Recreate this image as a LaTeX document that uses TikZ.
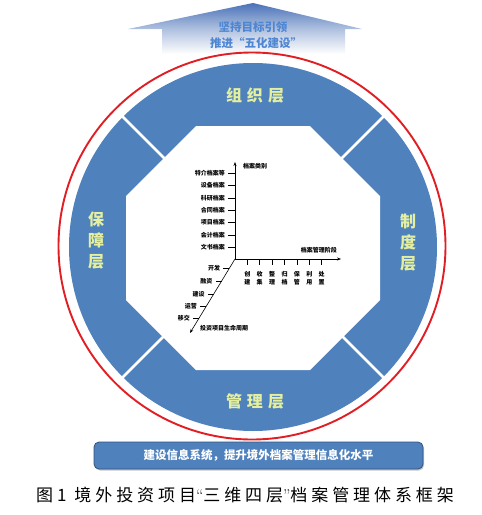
\documentclass[tikz,border=0pt]{standalone}
\usepackage{fontspec}
\newfontfamily\cjk{Noto Sans CJK SC}
\usetikzlibrary{arrows.meta,shadows,calc}
\definecolor{ringblue}{HTML}{4F81BD}
\definecolor{ringtext}{HTML}{E4F0A0}
\definecolor{ringred}{HTML}{E01E24}
\definecolor{roofblue}{HTML}{4A72B8}
\definecolor{rooftext}{HTML}{4F86D2}
\definecolor{boxedge}{HTML}{34527A}
\newcommand{\myopenq}{{\rmfamily\char"201C}}
\newcommand{\myclosq}{{\rmfamily\char"201D}}
\tikzset{
  ringlbl/.style={font=\cjk\bfseries\fontsize{16}{21}\selectfont, text=ringtext, inner sep=0pt, align=center},
  rooflbl/.style={font=\cjk\bfseries\fontsize{11.5}{13}\selectfont, text=rooftext, inner sep=0pt},
  axlbl/.style={font=\cjk\bfseries\fontsize{6}{8.3}\selectfont, inner sep=0pt, align=center},
  axisline/.style={line width=0.6pt, -{Stealth[length=4pt,width=3pt]}},
  tickline/.style={line width=0.5pt},
  botbox/.style={rounded corners=5pt, fill=ringblue, draw=boxedge, line width=0.8pt,
    minimum width=329pt, minimum height=27pt, inner sep=0pt,
    drop shadow={shadow xshift=1pt, shadow yshift=-1.5pt, fill=black!45},
    font=\cjk\bfseries\fontsize{11.5}{13}\selectfont, text=white},
  captionlbl/.style={font=\cjk\addfontfeature{LetterSpace=23}\fontsize{17}{20}\selectfont, inner sep=0pt}
}
\begin{document}
\begin{tikzpicture}[x=1pt,y=-1pt]
\useasboundingbox (0,0) rectangle (482,515);
\fill[white] (0,0) rectangle (482,515);

% roof arrow
\shade[top color=roofblue, bottom color=white, middle color=roofblue!45]
  (128,29) -- (253,3) -- (362,29) -- (345,29) -- (345,54) -- (162,54) -- (162,29) -- cycle;
\node[rooflbl] (r1) at (253,27) {坚持目标引领};
\node[rooflbl] (r2) at (256,43) {推进“五化建设”};

% ring
\coordinate (c) at (253,247);
\fill[ringblue] (c) circle[radius=184pt];
\draw[ringred, line width=1.9pt] (252,246) circle[radius=193.5pt];
\fill[white] (196,126) -- (310,126) -- (380,196) -- (380,300) -- (310,370) -- (196,370) -- (126,300) -- (126,196) -- cycle;
\foreach \a in {45,135,225,315}
  \draw[white, line width=2.5pt] ($(c)+(\a:118)$) -- ($(c)+(\a:186)$);

\node[ringlbl] (top) at (255,95) {组\hspace{5pt}织\hspace{5pt}层};
\node[ringlbl] (bot) at (255,401) {管\hspace{5pt}理\hspace{5pt}层};
\node[ringlbl] (lft) at (96,241) {保\\障\\层};
\node[ringlbl] (rgt) at (408,243) {制\\度\\层};

% axes
\coordinate (O) at (235,259);
\coordinate (Ytop) at (235,162);
\coordinate (Xend) at (341,259);
\coordinate (Zend) at (190,333);
\draw[axisline] (O) -- (Ytop);
\draw[axisline] (O) -- (Xend);
\draw[axisline] (O) -- (Zend);

\foreach \y/\t in {173.3/特介档案等, 185.6/设备档案, 197.9/科研档案, 210.2/合同档案, 222.5/项目档案, 234.8/会计档案, 247.1/文书档案} {
  \draw[tickline] (228,\y) -- (235,\y);
  \node[axlbl, anchor=east] at (225,\y) {\t};
}
\foreach \i/\a/\b in {0/创/建, 1/收/集, 2/整/理, 3/归/档, 4/保/管, 5/利/用, 6/处/置} {
  \pgfmathsetmacro{\xx}{247.3+12.4*\i}
  \draw[tickline] (\xx,259) -- (\xx,265);
  \node[axlbl] at (\xx,278.3) {\a\\\b};
}
\foreach \t/\l in {0.126/开发, 0.297/融资, 0.473/建设, 0.645/运营, 0.801/移交} {
  \coordinate (p) at ($(O)!\t!(Zend)$);
  \draw[tickline] (p) -- ++(-6,0);
  \node[axlbl, anchor=east] at ($(p)+(-9,0)$) {\l};
}
\node[axlbl, anchor=west] (yl) at (243,166) {档案类别};
\node[axlbl, anchor=east] (xl) at (337,250) {档案管理阶段};
\node[axlbl, anchor=west] (zl) at (200,328.5) {投资项目生命周期};

% bottom box
\node[botbox] (bb) at (258.5,455.5) {建设信息系统，提升境外档案管理信息化水平};

% caption
\node[captionlbl] (cap) at (245,495) {图1\hspace{8pt}境外投资项目\myopenq 三维四层\myclosq 档案管理体系框架};
\end{tikzpicture}
\end{document}
